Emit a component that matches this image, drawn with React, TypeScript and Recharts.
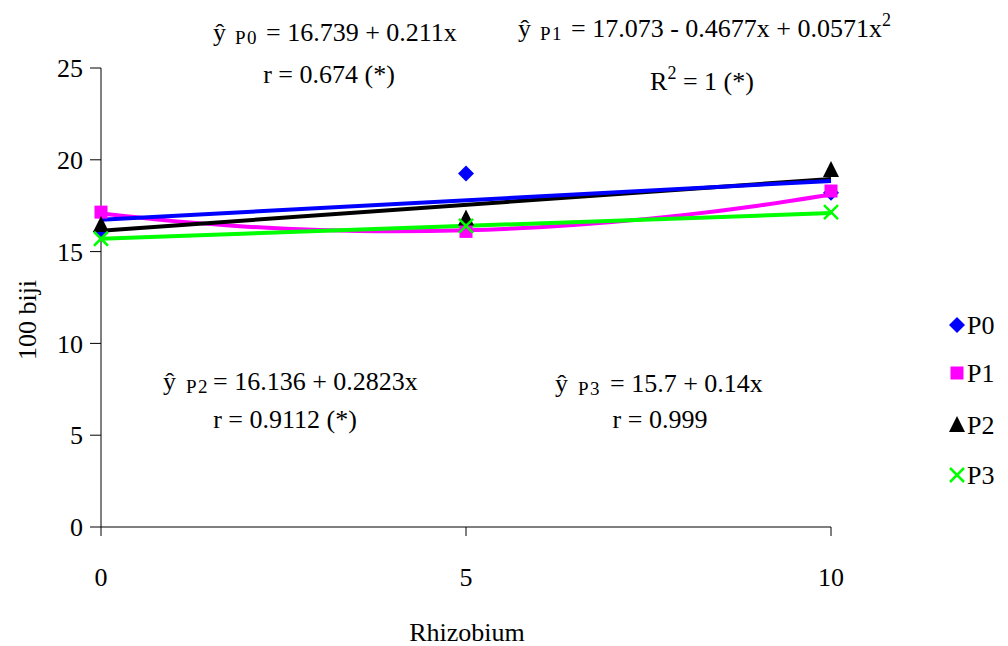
import { ComposedChart, Line, XAxis, YAxis } from "recharts";

// observed means (100 biji weight) per rhizobium dose
const rhizobium = [0, 5, 10];
const p0 = [16.1, 19.25, 18.2];
const p1 = [17.15, 16.1, 18.3];
const p2 = [16.45, 16.8, 19.45];
const p3 = [15.7, 16.4, 17.15];

// trend lines
const trendX = [0, 10];
const p0Trend = [16.74, 18.85];
const p2Trend = [16.14, 18.96];
const p3Trend = [15.7, 17.1];
const p1CurveX = [0, 1, 2, 3, 4, 5, 6, 7, 8, 9, 10];
const p1Curve = [17.07, 16.66, 16.36, 16.18, 16.11, 16.16, 16.33, 16.61, 17.0, 17.5, 18.11];

const yTicks = [0, 5, 10, 15, 20, 25];
const xTicks = [0, 5, 10];

const BLUE = "#0000ff";
const MAGENTA = "#ff00ff";
const BLACK = "#000000";
const GREEN = "#00ff00";
const FONT = "Liberation Serif";

const toRows = (xs: number[], ys: number[]) => xs.map((x, i) => ({ x, y: ys[i] }));

const Diamond = ({ cx, cy, size = 8, fill = BLUE }: any) => (
  <path d={`M${cx},${cy - size} L${cx + size},${cy} L${cx},${cy + size} L${cx - size},${cy} Z`} fill={fill} />
);
const Square = ({ cx, cy, size = 6.5, fill = MAGENTA }: any) => (
  <rect x={cx - size} y={cy - size} width={size * 2} height={size * 2} fill={fill} />
);
const Triangle = ({ cx, cy, size = 8, fill = BLACK }: any) => (
  <path d={`M${cx},${cy - size - 1} L${cx + size},${cy + size - 1} L${cx - size},${cy + size - 1} Z`} fill={fill} />
);
const Cross = ({ cx, cy, size = 7, stroke = GREEN }: any) => (
  <g stroke={stroke} strokeWidth={2.5}>
    <line x1={cx - size} y1={cy - size} x2={cx + size} y2={cy + size} />
    <line x1={cx - size} y1={cy + size} x2={cx + size} y2={cy - size} />
  </g>
);

const dotOf = (Shape: any) => (props: any) =>
  <Shape key={`${props.index}-${props.cx}`} cx={props.cx} cy={props.cy} />;

const textStyle = { fontFamily: FONT, fontSize: 26 };

// ŷ + subscript + right-hand side, each piece placed at its own x
function Eq({ x, y, subX, bodyX, sub, body, sup }: any) {
  return (
    <text y={y} style={textStyle}>
      <tspan x={x}>ŷ</tspan>
      <tspan x={subX} dy={3} style={{ fontSize: 19, letterSpacing: 1.5 }}>{sub}</tspan>
      <tspan x={bodyX} dy={-3}>{body}</tspan>
      {sup ? <tspan style={{ fontSize: 18 }} dy={-11}>{sup}</tspan> : null}
    </text>
  );
}

export default function App() {
  const legend = [
    { name: "P0", Shape: Diamond, y: 325 },
    { name: "P1", Shape: Square, y: 373 },
    { name: "P2", Shape: Triangle, y: 425 },
    { name: "P3", Shape: Cross, y: 475 },
  ];

  return (
    <div style={{ position: "absolute", left: 0, top: 0, width: 1008, height: 646, background: "#fff", fontFamily: FONT }}>
      <ComposedChart
        width={1008}
        height={646}
        margin={{ top: 68, right: 177, bottom: 59, left: 0 }}
        style={{ fontFamily: FONT }}
      >
        <XAxis
          dataKey="x"
          type="number"
          domain={[0, 10]}
          ticks={xTicks}
          allowDuplicatedCategory={false}
          height={60}
          stroke={BLACK}
          tickSize={9}
          tickMargin={32}
          tick={{ fill: BLACK, style: textStyle }}
        />
        <YAxis
          type="number"
          domain={[0, 25]}
          ticks={yTicks}
          width={101}
          stroke={BLACK}
          tickSize={11}
          tickMargin={7}
          tick={{ fill: BLACK, style: textStyle }}
        />

        {/* markers first, trend lines drawn over them */}
        <Line data={toRows(rhizobium, p0)} dataKey="y" stroke="none" dot={dotOf(Diamond)} isAnimationActive={false} />
        <Line data={toRows(rhizobium, p1)} dataKey="y" stroke="none" dot={dotOf(Square)} isAnimationActive={false} />
        <Line data={toRows(rhizobium, p2)} dataKey="y" stroke="none" dot={dotOf(Triangle)} isAnimationActive={false} />
        <Line data={toRows(rhizobium, p3)} dataKey="y" stroke="none" dot={dotOf(Cross)} isAnimationActive={false} />

        <Line data={toRows(p1CurveX, p1Curve)} dataKey="y" type="monotone" stroke={MAGENTA} strokeWidth={4} dot={false} isAnimationActive={false} />
        <Line data={toRows(trendX, p3Trend)} dataKey="y" stroke={GREEN} strokeWidth={4} dot={false} isAnimationActive={false} />
        <Line data={toRows(trendX, p2Trend)} dataKey="y" stroke={BLACK} strokeWidth={4} dot={false} isAnimationActive={false} />
        <Line data={toRows(trendX, p0Trend)} dataKey="y" stroke={BLUE} strokeWidth={4} dot={false} isAnimationActive={false} />
      </ComposedChart>

      <svg width={1008} height={646} style={{ position: "absolute", left: 0, top: 0, pointerEvents: "none" }}>
        <Eq x={213} subX={235} bodyX={266} y={41} sub="P0" body="= 16.739 + 0.211x" />
        <text x={329} y={83} style={textStyle} textAnchor="middle">r = 0.674 (*)</text>

        <Eq x={518} subX={540} bodyX={571} y={37} sub="P1" body="= 17.073 - 0.4677x +  0.0571x" sup="2" />
        <text x={702} y={90} style={textStyle} textAnchor="middle">
          R<tspan style={{ fontSize: 18 }} dy={-11}>2</tspan><tspan dy={11}> = 1 (*)</tspan>
        </text>

        <Eq x={163} subX={186} bodyX={213} y={390} sub="P2" body="= 16.136 + 0.2823x" />
        <text x={285} y={428} style={textStyle} textAnchor="middle">r = 0.9112  (*)</text>

        <Eq x={555} subX={578} bodyX={610} y={392} sub="P3" body="= 15.7 + 0.14x" />
        <text x={660} y={428} style={textStyle} textAnchor="middle">r = 0.999</text>

        <text x={0} y={0} transform="translate(36 320) rotate(-90)" style={textStyle} textAnchor="middle">
          100 biji
        </text>
        <text x={467} y={641} style={textStyle} textAnchor="middle">Rhizobium</text>

        {legend.map(({ name, Shape, y }) => (
          <g key={name}>
            <Shape cx={957} cy={y} />
            <text x={967} y={y + 9} style={{ fontFamily: FONT, fontSize: 26 }}>{name}</text>
          </g>
        ))}
      </svg>
    </div>
  );
}
